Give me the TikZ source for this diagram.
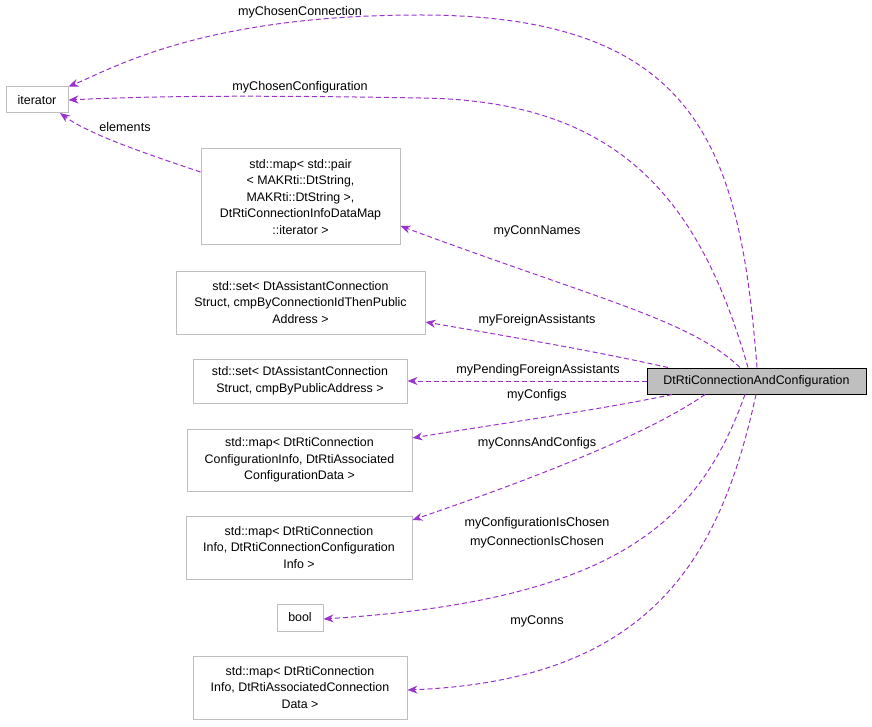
\documentclass[tikz,border=0pt]{standalone}
\usepackage{fontspec}
\setmainfont{Liberation Sans}
\usetikzlibrary{arrows.meta}
\definecolor{edgepurple}{HTML}{9A32CD}
\definecolor{boxgray}{HTML}{BFBFBF}
\definecolor{boxline}{HTML}{BFBFBF}
\tikzset{
  cls/.style={draw=boxline, line width=1pt, fill=white, rectangle, align=center, inner sep=0pt,
    font=\fontsize{12.4}{16.5}\selectfont},
  rel/.style={draw=edgepurple, line width=1pt, dash pattern=on 5pt off 3pt, -{Stealth[length=10pt,width=8pt]}},
  lbl/.style={font=\fontsize{12.6}{14}\selectfont, inner sep=1pt}
}
\begin{document}
\begin{tikzpicture}[x=1pt,y=-1pt]
  \useasboundingbox (0,0) rectangle (872,727);
  % classes
  \node[cls, minimum width=62pt, minimum height=26pt] (iter) at (37,100) {iterator};
  \node[cls, minimum width=199pt, minimum height=96pt] (pairmap) at (300.5,197) {std::map\textless{} std::pair\\\textless{} MAKRti::DtString,\\ MAKRti::DtString \textgreater,\\ DtRtiConnectionInfoDataMap\\::iterator \textgreater};
  \node[cls, minimum width=249pt, minimum height=63pt] (fset) at (300.5,302.5) {std::set\textless{} DtAssistantConnection\\Struct, cmpByConnectionIdThenPublic\\Address \textgreater};
  \node[cls, minimum width=214pt, minimum height=44pt] (pset) at (300,381) {std::set\textless{} DtAssistantConnection\\Struct, cmpByPublicAddress \textgreater};
  \node[cls, minimum width=225pt, minimum height=62pt] (cfgmap) at (299.5,460) {std::map\textless{} DtRtiConnection\\ConfigurationInfo, DtRtiAssociated\\ConfigurationData \textgreater};
  \node[cls, minimum width=226pt, minimum height=63pt] (ccmap) at (299,547.5) {std::map\textless{} DtRtiConnection\\Info, DtRtiConnectionConfiguration\\Info \textgreater};
  \node[cls, minimum width=46pt, minimum height=27pt] (bool) at (300,617.5) {bool};
  \node[cls, minimum width=214pt, minimum height=63pt] (connmap) at (300,687.5) {std::map\textless{} DtRtiConnection\\Info, DtRtiAssociatedConnection\\Data \textgreater};
  \node[cls, draw=black, fill=boxgray, minimum width=219pt, minimum height=26pt] (main) at (756.5,381) {DtRtiConnectionAndConfiguration};
  % relations
  \draw[rel] (main.north -| 757,0) .. controls (740,150) and (700,15) .. (420,15) .. controls (200,15) and (110,70) .. (iter.north east);
  \node[lbl] at (300,12) {myChosenConnection};
  \draw[rel] (main.north -| 748,0) .. controls (700,200) and (620,100) .. (420,98) .. controls (250,95) and (150,96) .. (iter.east);
  \node[lbl] at (300,87) {myChosenConfiguration};
  \draw[rel] (pairmap.west |- 0,172) .. controls (150,155) and (90,135) .. (60,113);
  \node[lbl] at (125,127) {elements};
  \draw[rel] (main.north -| 740,0) .. controls (690,320) and (600,300) .. (pairmap.east |- 0,226);
  \node[lbl] at (537,231) {myConnNames};
  \draw[rel] (main.north -| 668,0) .. controls (590,350) and (500,335) .. (fset.east |- 0,322);
  \node[lbl] at (537,320) {myForeignAssistants};
  \draw[rel] (main.west) -- (pset.east);
  \node[lbl] at (538,370) {myPendingForeignAssistants};
  \draw[rel] (main.south -| 672,0) .. controls (600,410) and (490,425) .. (cfgmap.east |- 0,438);
  \node[lbl] at (537,395) {myConfigs};
  \draw[rel] (main.south -| 705,0) .. controls (640,440) and (500,490) .. (ccmap.east |- 0,520);
  \node[lbl] at (537,443) {myConnsAndConfigs};
  \draw[rel] (main.south -| 745,0) .. controls (700,520) and (620,600) .. (bool.east |- 0,619);
  \node[lbl] at (537,523) {myConfigurationIsChosen};
  \node[lbl] at (537,542) {myConnectionIsChosen};
  \draw[rel] (main.south -| 756,0) .. controls (720,560) and (650,680) .. (connmap.east |- 0,690);
  \node[lbl] at (537,621) {myConns};
\end{tikzpicture}
\end{document}
